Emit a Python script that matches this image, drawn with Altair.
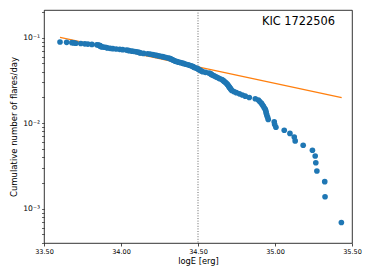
import altair as alt
import pandas as pd

# Flare energies (log E [erg]) and cumulative flare frequency (flares/day)
log_e = [
    33.604, 33.647, 33.681, 33.694, 33.707, 33.739, 33.765, 33.785, 33.811, 33.843,
    33.851, 33.859, 33.862, 33.866, 33.869, 33.872, 33.882, 33.895, 33.905, 33.914,
    33.930, 33.947, 33.969, 33.992, 34.011, 34.035, 34.047, 34.057, 34.073, 34.089,
    34.102, 34.115, 34.121, 34.128, 34.147, 34.173, 34.189, 34.206, 34.218, 34.231,
    34.244, 34.257, 34.270, 34.280, 34.293, 34.306, 34.316, 34.322, 34.328, 34.335,
    34.341, 34.348, 34.354, 34.364, 34.374, 34.387, 34.400, 34.409, 34.422, 34.435,
    34.445, 34.455, 34.464, 34.471, 34.477, 34.487, 34.497, 34.503, 34.510, 34.516,
    34.523, 34.531, 34.549, 34.571, 34.581, 34.587, 34.594, 34.604, 34.613, 34.623,
    34.633, 34.642, 34.655, 34.662, 34.668, 34.675, 34.681, 34.688, 34.691, 34.697,
    34.701, 34.704, 34.710, 34.714, 34.720, 34.733, 34.749, 34.769, 34.788, 34.807,
    34.833, 34.872, 34.892, 34.901, 34.911, 34.917, 34.924, 34.930, 34.937, 34.941,
    34.943, 34.947, 34.952, 34.956, 34.995, 34.998, 35.006, 35.060, 35.097, 35.125,
    35.131, 35.183, 35.243, 35.261, 35.265, 35.272, 35.323, 35.325, 35.431,
]
cum_rate = [
    0.08901, 0.08832, 0.08763, 0.08694, 0.08625, 0.08556, 0.08487, 0.08418, 0.08349, 0.08280,
    0.08211, 0.08142, 0.08073, 0.08004, 0.07935, 0.07866, 0.07797, 0.07728, 0.07659, 0.07590,
    0.07521, 0.07452, 0.07383, 0.07314, 0.07245, 0.07176, 0.07107, 0.07038, 0.06969, 0.06900,
    0.06831, 0.06762, 0.06693, 0.06624, 0.06555, 0.06486, 0.06417, 0.06348, 0.06279, 0.06210,
    0.06141, 0.06072, 0.06003, 0.05934, 0.05865, 0.05796, 0.05727, 0.05658, 0.05589, 0.05520,
    0.05451, 0.05382, 0.05313, 0.05244, 0.05175, 0.05106, 0.05037, 0.04968, 0.04899, 0.04830,
    0.04761, 0.04692, 0.04623, 0.04554, 0.04485, 0.04416, 0.04347, 0.04278, 0.04209, 0.04140,
    0.04071, 0.04002, 0.03933, 0.03864, 0.03795, 0.03726, 0.03657, 0.03588, 0.03519, 0.03450,
    0.03381, 0.03312, 0.03243, 0.03174, 0.03105, 0.03036, 0.02967, 0.02898, 0.02829, 0.02760,
    0.02691, 0.02622, 0.02553, 0.02484, 0.02415, 0.02346, 0.02277, 0.02208, 0.02139, 0.02070,
    0.02001, 0.01932, 0.01863, 0.01794, 0.01725, 0.01656, 0.01587, 0.01518, 0.01449, 0.01380,
    0.01311, 0.01242, 0.01173, 0.01104, 0.01035, 0.00966, 0.00897, 0.00828, 0.00759, 0.00690,
    0.00621, 0.00552, 0.00483, 0.00414, 0.00345, 0.00276, 0.00207, 0.00138, 0.00069,
]

# Power-law fit line end points
fit_x = [33.604, 35.433]
fit_y = [0.101, 0.0199]

# Break energy marker
break_x = [34.5]

label_text = ["KIC 1722506"]
label_x = [35.39]
label_y = [0.154]

x_ticks = [33.5, 33.75, 34.0, 34.25, 34.5, 34.75, 35.0, 35.25, 35.5]
y_major = [0.001, 0.01, 0.1]
y_minor = [0.0004, 0.0005, 0.0006, 0.0007, 0.0008, 0.0009,
           0.002, 0.003, 0.004, 0.005, 0.006, 0.007, 0.008, 0.009,
           0.02, 0.03, 0.04, 0.05, 0.06, 0.07, 0.08, 0.09, 0.2]

x_dom = [33.5, 35.5]
y_dom = [0.000397, 0.211]

pts = pd.DataFrame({"x": log_e, "y": cum_rate})
fit = pd.DataFrame({"x": fit_x, "y": fit_y})
vline = pd.DataFrame({"x": break_x})
lab = pd.DataFrame({"t": label_text, "x": label_x, "y": label_y})

FONT = "DejaVu Sans"

xscale = alt.Scale(domain=x_dom, nice=False, zero=False)
yscale = alt.Scale(type="log", domain=y_dom, nice=False)

xaxis = alt.Axis(
    title="logE [erg]", values=x_ticks, format=".2f", grid=False,
    labelFont=FONT, labelFontSize=6.5, labelColor="black", labelPadding=2,
    labelFlush=False, labelOverlap=False,
    tickSize=3, tickColor="black", tickWidth=0.7, domain=False,
    titleFont=FONT, titleFontSize=8.3, titleFontWeight="normal", titleColor="black",
    titlePadding=2,
)
yaxis = alt.Axis(
    title="Cumulative number of flares/day", values=y_major + y_minor, grid=False,
    labelExpr="datum.value == 0.1 ? '10⁻¹' : datum.value == 0.01 ? '10⁻²' : datum.value == 0.001 ? '10⁻³' : ''",
    labelFont=FONT, labelFontSize=7.6, labelColor="black", labelPadding=2,
    labelOverlap=False, labelFlush=False,
    tickSize=2.5, tickColor="black", tickWidth=0.6, domain=False,
    titleFont=FONT, titleFontSize=8.5, titleFontWeight="normal", titleColor="black",
    titlePadding=4,
)

points = alt.Chart(pts).mark_circle(size=32, opacity=1, color="#1f77b4").encode(
    x=alt.X("x:Q", scale=xscale, axis=xaxis),
    y=alt.Y("y:Q", scale=yscale, axis=yaxis),
)

fitline = alt.Chart(fit).mark_line(color="#ff7f0e", strokeWidth=1.3).encode(
    x=alt.X("x:Q", scale=xscale),
    y=alt.Y("y:Q", scale=yscale),
)

rule = alt.Chart(vline).mark_rule(color="#555555", strokeWidth=0.9, strokeDash=[1, 1.6]).encode(
    x=alt.X("x:Q", scale=xscale),
)

text = alt.Chart(lab).mark_text(
    font=FONT, fontSize=11.4, color="black", align="right", baseline="middle"
).encode(
    x=alt.X("x:Q", scale=xscale),
    y=alt.Y("y:Q", scale=yscale),
    text="t:N",
)

chart = alt.layer(rule, fitline, points, text).properties(
    width=308, height=233,
    background="white",
    autosize=alt.AutoSizeParams(type="none"),
    padding={"left": 36, "top": 2, "right": 14, "bottom": 29},
).configure_view(stroke="black", strokeWidth=0.8)

chart.save("out.html", embed_options={"renderer": "svg", "actions": False})
